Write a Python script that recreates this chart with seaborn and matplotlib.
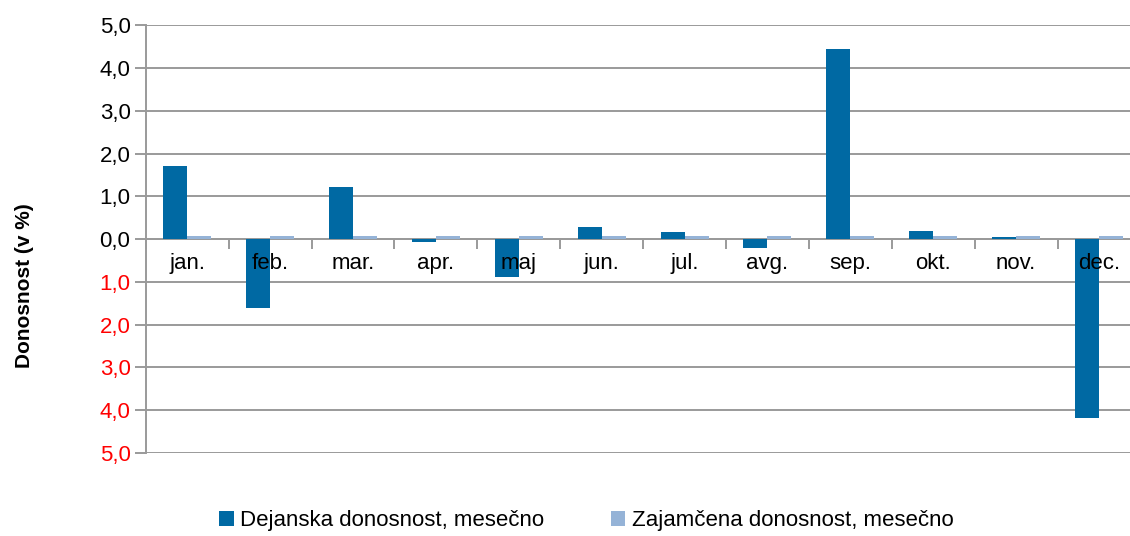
import numpy as np
import pandas as pd
import matplotlib
matplotlib.use('Agg')
import matplotlib.pyplot as plt
import seaborn as sns
from matplotlib.ticker import FixedLocator, FuncFormatter

months = ['jan.', 'feb.', 'mar.', 'apr.', 'maj', 'jun.', 'jul.', 'avg.', 'sep.', 'okt.', 'nov.', 'dec.']
dejanska = [1.71, -1.61, 1.21, -0.07, -0.89, 0.29, 0.16, -0.20, 4.44, 0.18, 0.05, -4.18]
zajamcena = [0.08, 0.08, 0.08, 0.08, 0.08, 0.08, 0.08, 0.08, 0.08, 0.08, 0.08, 0.08]
series_names = ['Dejanska donosnost, mesečno', 'Zajamčena donosnost, mesečno']
series_colors = ['#0069a3', '#95b3d7']

df = pd.DataFrame({'mesec': months * 2,
                   'vrednost': dejanska + zajamcena,
                   'serija': [series_names[0]] * 12 + [series_names[1]] * 12})

sns.set_style('white')
plt.rcParams['font.family'] = ['Liberation Sans', 'DejaVu Sans']
plt.rcParams['text.color'] = 'black'
plt.rcParams['axes.labelcolor'] = 'black'
plt.rcParams['xtick.color'] = 'black'
plt.rcParams['ytick.color'] = 'black'

fig, ax = plt.subplots(figsize=(11.3, 5.36), dpi=100)
fig.subplots_adjust(left=0.129, right=1.0, top=0.953, bottom=0.155)

sns.barplot(data=df, x='mesec', y='vrednost', hue='serija', palette=series_colors,
            width=0.58, saturation=1, linewidth=0, ax=ax, zorder=1)

ax.set_ylim(-5, 5)
ax.set_xlim(-0.5, 11.374)
yticks = np.arange(-5, 5.5, 1)
ax.yaxis.set_major_locator(FixedLocator(yticks))
ax.yaxis.set_major_formatter(FuncFormatter(lambda v, p: f'{abs(v):.1f}'.replace('.', ',')))
# gridlines below the bars, axis (labels) above them
ax.grid(False)
for yv in yticks:
    ax.axhline(yv, color='#9a9a9a', linewidth=1.4, zorder=0.5)
ax.set_axisbelow(False)

ax.tick_params(axis='y', labelsize=16, length=8, width=1.4, color='#9a9a9a', direction='out', left=True, pad=3)
for lbl, yv in zip(ax.get_yticklabels(), yticks):
    lbl.set_color('red' if yv < 0 else 'black')

# x axis sits at zero with small ticks between categories
ax.spines['bottom'].set_position(('data', 0))
ax.spines['bottom'].set_color('#9a9a9a')
ax.spines['bottom'].set_linewidth(1.4)
ax.spines['bottom'].set_zorder(0.6)
ax.spines['left'].set_color('#9a9a9a')
ax.spines['left'].set_linewidth(1.4)
ax.spines['top'].set_visible(False)
ax.spines['right'].set_visible(False)
ax.xaxis.set_minor_locator(FixedLocator(np.arange(-0.5, 12, 1)))
ax.tick_params(axis='x', which='major', length=0, labelsize=16, pad=10, labelcolor='black')
ax.tick_params(axis='x', which='minor', length=7, width=1.4, color='#9a9a9a', direction='out', bottom=True)
ax.set_xlabel('')
ax.set_ylabel('Donosnost (v %)', fontsize=15, fontweight='bold', color='black')
ax.yaxis.set_label_coords(-0.114, 0.39)

handles, labels = ax.get_legend_handles_labels()
ax.get_legend().remove()
fig.legend(handles, labels, loc='center', bbox_to_anchor=(0.519, 0.028), ncol=2, frameon=False,
           fontsize=16, handlelength=0.65, handleheight=0.65, handletextpad=0.3, columnspacing=3.0,
           labelcolor='black')

plt.savefig('out.png', dpi=100)
